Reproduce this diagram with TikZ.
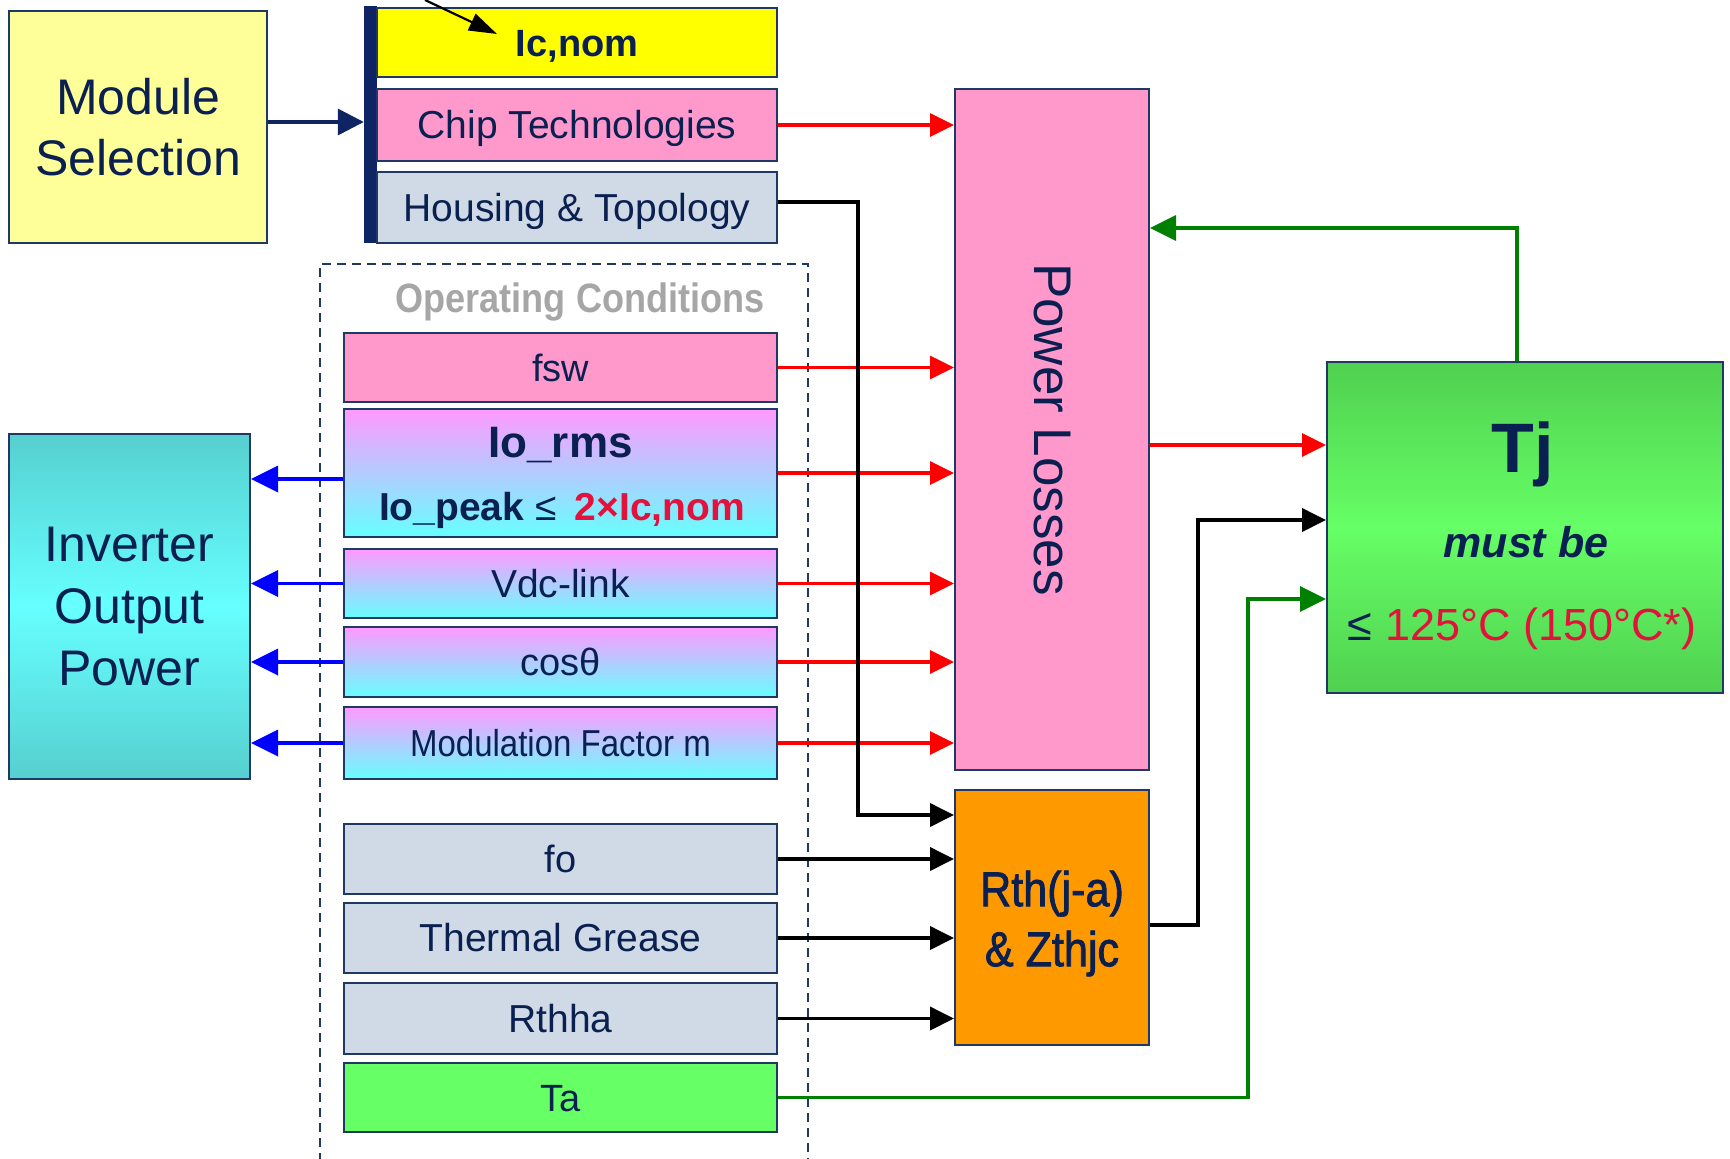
\documentclass[tikz,border=0pt]{standalone}
\usepackage{fontspec}
\setmainfont{Liberation Sans}
\newfontfamily\narrowfont[FakeStretch=0.88]{Liberation Sans}
\newfontfamily\narrowheavy[FakeStretch=0.88, FakeBold=1.6]{Liberation Sans}
\usetikzlibrary{arrows.meta}

\definecolor{navy}{HTML}{0A2050}
\definecolor{edge}{HTML}{1F3864}
\definecolor{barnavy}{HTML}{0F2463}
\definecolor{paleyellow}{HTML}{FFFF99}
\definecolor{brightyellow}{HTML}{FFFF00}
\definecolor{pinkbox}{HTML}{FF99CC}
\definecolor{greybox}{HTML}{CFDAE6}
\definecolor{magtop}{HTML}{FF99FF}
\definecolor{cyanbot}{HTML}{66FFFF}
\definecolor{tealedge}{HTML}{56CFCF}
\definecolor{greenmid}{HTML}{66FF66}
\definecolor{greenedge}{HTML}{50D050}
\definecolor{orangebox}{HTML}{FF9900}
\definecolor{hotred}{HTML}{E3123C}
\definecolor{greylabel}{HTML}{A6A6A6}
\definecolor{arrowgreen}{HTML}{008000}
\definecolor{arrowblue}{HTML}{0000FF}

% font size in bp with explicit leading
\newcommand\setfz[2]{\fontsize{#1bp}{#2bp}\selectfont}

\tikzset{
  box/.style={draw=edge, line width=2bp, inner sep=0pt, text=navy, align=center},
  lab/.style 2 args={font=\setfz{#1}{#1}, text height=#2bp, text depth=0bp},
  opgrad/.style={top color=magtop, bottom color=cyanbot},
  redarr/.style={draw=red, line width=3.3bp, -{Triangle[length=24bp,width=23bp]}},
  blkarr/.style={draw=black, line width=3.8bp, -{Triangle[length=24bp,width=23bp]}},
  bluearr/.style={draw=arrowblue, line width=3.6bp, -{Triangle[length=27bp,width=26bp]}},
  grnarr/.style={draw=arrowgreen, line width=3.3bp, -{Triangle[length=26bp,width=25bp]}},
  navarr/.style={draw=barnavy, line width=3.4bp, -{Triangle[length=26bp,width=26bp]}},
  pointer/.style={draw=black, line width=2.2bp, -{Triangle[length=28bp,width=18bp]}},
  opframe/.style={draw=edge, line width=2bp, dash pattern=on 9bp off 6bp},
}

\begin{document}
\begin{tikzpicture}[x=1bp, y=-1bp]
\fill[white] (0,0) rectangle (1730,1158);
\useasboundingbox (0,0) rectangle (1730,1158);

% module selection and the module's data
\node[box, fill=paleyellow, minimum width=258bp, minimum height=232bp,
      font=\setfz{50}{61}] (modsel) at (138,127) {Module\\Selection};
\node[fill=barnavy, inner sep=0pt, minimum width=13bp, minimum height=237bp] (bar) at (370.5,124.5) {};
\node[box, fill=brightyellow, minimum width=400bp, minimum height=69bp, lab={38}{27.2}] (icnom) at (577,42.5) {\textbf{Ic,nom}};
\node[box, fill=pinkbox, minimum width=400bp, minimum height=72bp, lab={39}{27.9}] (chip) at (577,125) {Chip Technologies};
\node[box, fill=greybox, minimum width=400bp, minimum height=71bp, lab={39}{27.9}] (housing) at (577,207.5) {Housing \& Topology};

% operating conditions frame
\draw[opframe] (320,1162) -- (320,264) -- (808,264) -- (808,1162);
\node[anchor=base, text=greylabel, font=\setfz{41}{41}\narrowfont\bfseries] (oplabel) at (580,312) {Operating Conditions};

\node[box, fill=pinkbox, minimum width=433bp, minimum height=69bp, lab={38}{27.2}] (fsw) at (560.5,367.5) {fsw};
\node[box, opgrad, minimum width=433bp, minimum height=128bp] (iorms) at (560.5,473) {};
\node[anchor=base, text=navy, font=\setfz{44}{44}\bfseries] (iormslabel) at (560.5,457) {Io\_rms};
\node[anchor=base, text=navy, font=\setfz{39}{39}] (iopeaklabel) at (562,520)
  {\textbf{Io\_peak}\hspace{11bp}≤\hspace{18bp}\textcolor{hotred}{\textbf{2×Ic,nom}}};
\node[box, opgrad, minimum width=433bp, minimum height=69bp, lab={39}{27.9}] (vdc) at (560.5,583.5) {Vdc-link};
\node[box, opgrad, minimum width=433bp, minimum height=70bp, lab={38}{27.2}] (cosphi) at (560.5,662) {cosθ};
\node[box, opgrad, minimum width=433bp, minimum height=72bp, lab={37.5}{26.8}] (modf) at (560.5,743) {\narrowfont Modulation Factor m};
\node[box, fill=greybox, minimum width=433bp, minimum height=70bp, lab={38}{27.2}] (fo) at (560.5,859) {fo};
\node[box, fill=greybox, minimum width=433bp, minimum height=70bp, lab={39}{27.9}] (grease) at (560.5,938) {Thermal Grease};
\node[box, fill=greybox, minimum width=433bp, minimum height=71bp, lab={39}{27.9}] (rthha) at (560.5,1018.5) {Rthha};
\node[box, fill=greenmid, minimum width=433bp, minimum height=69bp, lab={38}{27.2}] (ta) at (560.5,1097.5) {Ta};

% output power
\node[box, top color=tealedge, bottom color=tealedge, middle color=cyanbot,
      minimum width=241bp, minimum height=345bp, font=\setfz{50}{62}] (inv) at (129.5,606.5) {Inverter\\Output\\Power};

% losses and thermal impedance
\node[box, fill=pinkbox, minimum width=194bp, minimum height=681bp] (ploss) at (1052,429.5) {};
\node[rotate=-90, text=navy, font=\setfz{53}{53}] (plosslabel) at (ploss.center) {Power Losses};
\node[box, fill=orangebox, minimum width=194bp, minimum height=255bp] (rth) at (1052,917.5) {};
\node[text=navy, align=center, font=\setfz{49}{60}\narrowheavy] (rthlabel) at ([yshift=-6bp]rth.center) {Rth(j-a)\\\& Zthjc};

% junction temperature
\node[box, top color=greenedge, bottom color=greenedge, middle color=greenmid,
      minimum width=396bp, minimum height=331bp] (tj) at (1525,527.5) {};
\node[anchor=base, text=navy, font=\setfz{70}{70}\bfseries] (tjlabel) at (1523,472) {Tj};
\node[anchor=base, text=navy, font=\setfz{43}{43}\bfseries\itshape] (mustbe) at (1526,557) {must be};
\node[anchor=base, text=navy, font=\setfz{45}{45}] (tjlimit) at (1522,640)
  {≤ \textcolor{hotred}{125°C (150°C*)}};

% ---- connectors ----
\coordinate (toptail) at (425,0);
\coordinate (icnompoint) at ([shift={(-80,-8.5)}]icnom.center);
\draw[pointer] (toptail) -- (icnompoint);

\coordinate (msout) at ([yshift=5bp]modsel.east);
\draw[navarr] (msout) -- (msout -| bar.west);

\foreach \b in {chip,fsw,iorms,vdc,cosphi,modf}
  \draw[redarr] (\b.east) -- (\b.east -| ploss.west);

\coordinate (ioleft) at ([yshift=-6bp]iorms.west);
\draw[bluearr] (ioleft) -- (ioleft -| inv.east);
\foreach \b in {vdc,cosphi,modf}
  \draw[bluearr] (\b.west) -- (\b.west -| inv.east);

\coordinate (hsout) at ([yshift=5.5bp]housing.east);
\coordinate (hsbend) at (858,815);
\draw[blkarr] (hsout) -| (hsbend) -- (hsbend -| rth.west);
\foreach \b in {fo,grease,rthha}
  \draw[blkarr] (\b.east) -- (\b.east -| rth.west);

\coordinate (plout) at ([yshift=-15.5bp]ploss.east);
\draw[redarr] (plout) -- (plout -| tj.west);

\coordinate (rthout) at ([yshift=-7.5bp]rth.east);
\coordinate (rthbend) at (1198,520);
\draw[blkarr] (rthout) -| (rthbend) -- (rthbend -| tj.west);

\coordinate (tabend) at (1248,599);
\draw[grnarr] (ta.east) -| (tabend) -- (tabend -| tj.west);

\coordinate (fbbend) at (1517,228);
\draw[grnarr] (tj.north -| fbbend) -- (fbbend) -- (fbbend -| ploss.east);
\end{tikzpicture}
\end{document}
